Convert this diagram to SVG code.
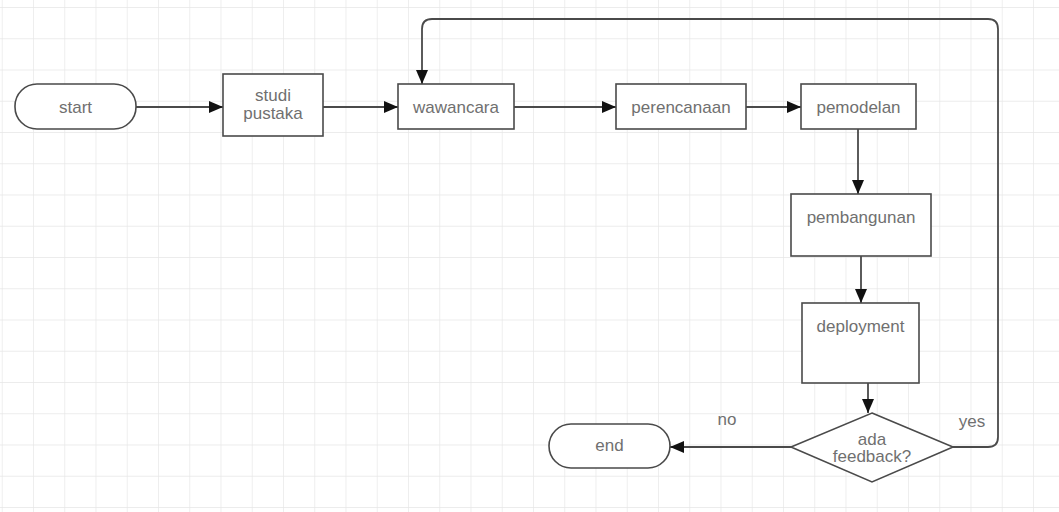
<svg xmlns="http://www.w3.org/2000/svg" width="1059" height="512" viewBox="0 0 1059 512">
<defs>
<pattern id="grid" x="1.75" y="7" width="31.25" height="31.25" patternUnits="userSpaceOnUse">
<path d="M0 0H31.25M0 0V31.25" fill="none" stroke="#e6e6e6" stroke-width="1.3"/>
</pattern>
<marker id="arr" markerWidth="14" markerHeight="12" refX="14" refY="6" orient="auto" markerUnits="userSpaceOnUse">
<path d="M0 0L14 6L0 12Z" fill="#111"/>
</marker>
</defs>
<style>
.box{fill:#fff;stroke:#4a4a4a;stroke-width:1.6}
.t{font-family:"Liberation Sans",Arial,sans-serif;font-size:17px;fill:#707070;text-anchor:middle}
.c{fill:none;stroke:#4a4a4a;stroke-width:1.8}
</style>
<rect width="1059" height="512" fill="#fff"/>
<rect width="1059" height="512" fill="url(#grid)"/>
<g id="connectors">
<path class="c" d="M136 107H223" marker-end="url(#arr)"/>
<path class="c" d="M323 107H398" marker-end="url(#arr)"/>
<path class="c" d="M514 107H616" marker-end="url(#arr)"/>
<path class="c" d="M746 107H801" marker-end="url(#arr)"/>
<path class="c" d="M858 129V194" marker-end="url(#arr)"/>
<path class="c" d="M861 256V303" marker-end="url(#arr)"/>
<path class="c" d="M868 383V413" marker-end="url(#arr)"/>
<path class="c" d="M791 447H670" marker-end="url(#arr)"/>
<path class="c" d="M953 447H988Q998 447 998 437V29Q998 19 988 19H432Q422 19 422 29V84" marker-end="url(#arr)"/>
<text class="t" x="727" y="425">no</text>
<text class="t" x="972" y="427">yes</text>
</g>
<g id="start">
<rect class="box" x="15" y="84" width="121" height="45" rx="22"/>
<text class="t" x="75.5" y="113">start</text>
</g>
<g id="studi-pustaka">
<rect class="box" x="223" y="74" width="100" height="62"/>
<text class="t" x="273" y="101">studi</text>
<text class="t" x="273" y="119">pustaka</text>
</g>
<g id="wawancara">
<rect class="box" x="398" y="84" width="116" height="45"/>
<text class="t" x="456" y="113">wawancara</text>
</g>
<g id="perencanaan">
<rect class="box" x="616" y="84" width="130" height="45"/>
<text class="t" x="681" y="113">perencanaan</text>
</g>
<g id="pemodelan">
<rect class="box" x="801" y="84" width="115" height="45"/>
<text class="t" x="858.5" y="113">pemodelan</text>
</g>
<g id="pembangunan">
<rect class="box" x="791" y="194" width="140" height="62"/>
<text class="t" x="861" y="223">pembangunan</text>
</g>
<g id="deployment">
<rect class="box" x="802" y="303" width="117" height="80"/>
<text class="t" x="860.5" y="332">deployment</text>
</g>
<g id="ada-feedback">
<path class="box" d="M872 413L953 447L872 482L791 447Z"/>
<text class="t" x="872" y="445">ada</text>
<text class="t" x="872" y="462">feedback?</text>
</g>
<g id="end">
<rect class="box" x="549" y="424" width="121" height="44" rx="22"/>
<text class="t" x="609.5" y="451">end</text>
</g>
</svg>
